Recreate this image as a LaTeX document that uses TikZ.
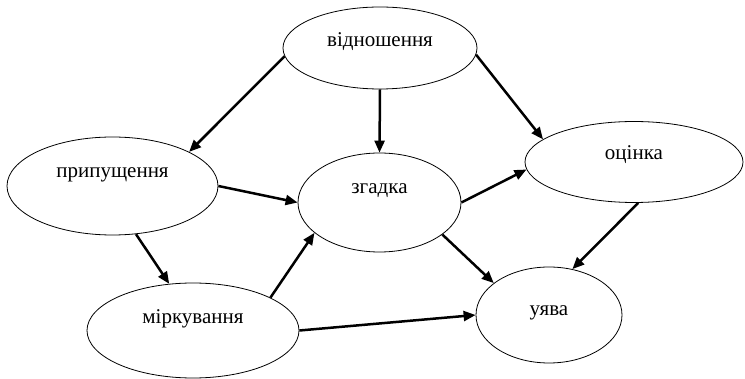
\documentclass[tikz,border=0pt]{standalone}
\usepackage{fontspec}
\setmainfont{Liberation Serif}
\usetikzlibrary{shapes.geometric,arrows.meta}

\begin{document}
\begin{tikzpicture}[x=1pt, y=-1pt,
  bulle/.style={draw, ellipse, line width=0.8pt, inner sep=0pt,
    font=\fontsize{21}{24}\selectfont, text height=11pt},
  fleche/.style={-{Triangle[length=12pt,width=10pt]}, line width=2.5pt}]
  \useasboundingbox (0,0) rectangle (745,379);

  % Les ellipses
  \node[bulle, minimum width=194pt, minimum height=82pt, text depth=13pt] (vidn) at (380,48) {відношення};
  \node[bulle, minimum width=211pt, minimum height=98pt, text depth=27pt] (prip) at (112.5,186) {припущення};
  \node[bulle, minimum width=163pt, minimum height=99pt, text depth=28pt] (zgad) at (379.5,202.5) {згадка};
  \node[bulle, minimum width=218pt, minimum height=81pt, text depth=15pt] (otsin) at (634,162) {оцінка};
  \node[bulle, minimum width=212pt, minimum height=95pt, text depth=25pt] (mirk) at (193,330.5) {міркування};
  \node[bulle, minimum width=146pt, minimum height=96pt, text depth=9pt] (uyava) at (549,315) {уява};

  % Les flèches
  \draw[fleche] (vidn.185) -- (prip.24);
  \draw[fleche] (vidn.south) -- (zgad.north);
  \draw[fleche] (vidn.356) -- (otsin.166);
  \draw[fleche] (prip.east) -- (zgad.west);
  \draw[fleche] (prip.296) -- (mirk.117);
  \draw[fleche] (mirk.23) -- (zgad.205);
  \draw[fleche] (mirk.east) -- (uyava.west);
  \draw[fleche] (zgad.east) -- (otsin.184);
  \draw[fleche] (zgad.333) -- (uyava.150);
  \draw[fleche] (otsin.276) -- (uyava.63);
\end{tikzpicture}
\end{document}
